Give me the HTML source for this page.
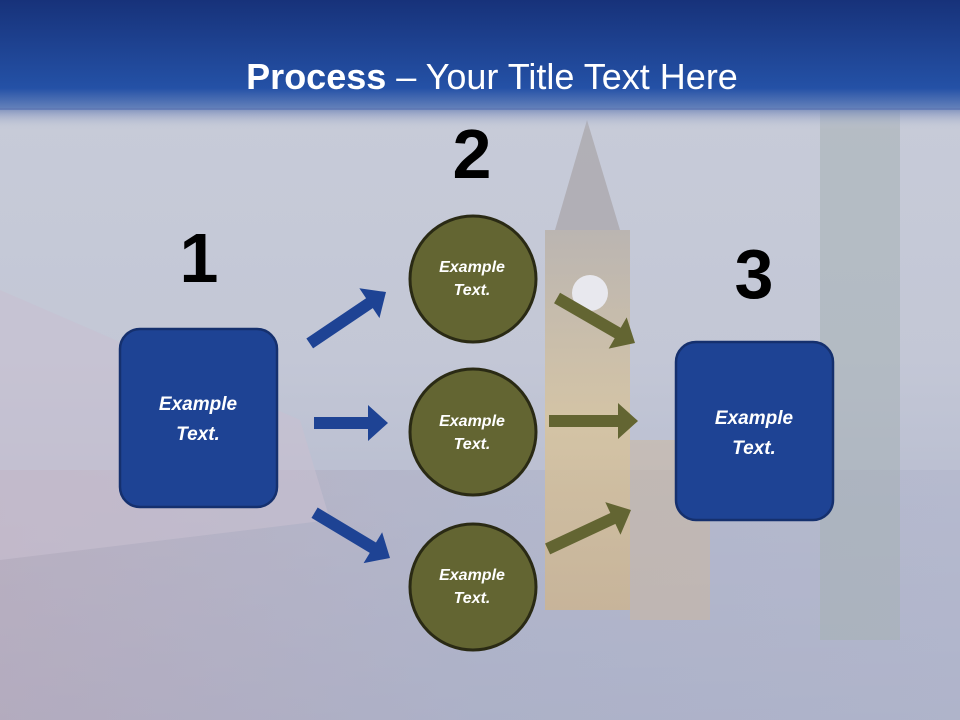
<!DOCTYPE html>
<html><head><meta charset="utf-8"><style>
html,body{margin:0;padding:0;width:960px;height:720px;overflow:hidden}
body{font-family:"Liberation Sans",sans-serif}
</style></head><body>
<svg width="960" height="720" viewBox="0 0 960 720" xmlns="http://www.w3.org/2000/svg">
<defs>
<linearGradient id="bg" x1="0" y1="0" x2="0" y2="1">
<stop offset="0" stop-color="#c9cdd9"/><stop offset="0.5" stop-color="#c3c7d6"/><stop offset="1" stop-color="#aab0c8"/>
</linearGradient>
<linearGradient id="hd" x1="0" y1="0" x2="0" y2="1">
<stop offset="0" stop-color="#17327a"/><stop offset="0.8" stop-color="#2451a6"/><stop offset="1" stop-color="#2a55a8" stop-opacity="0.6"/>
</linearGradient>
<linearGradient id="fade" x1="0" y1="0" x2="0" y2="1">
<stop offset="0" stop-color="#5a73b0" stop-opacity="0.7"/><stop offset="1" stop-color="#c9cdd9" stop-opacity="0"/>
</linearGradient>
<linearGradient id="tower" x1="0" y1="0" x2="0" y2="1">
<stop offset="0" stop-color="#b8b0a8"/><stop offset="0.5" stop-color="#d9c49a"/><stop offset="1" stop-color="#cdb48e"/>
</linearGradient>
<linearGradient id="street" x1="0" y1="0" x2="1" y2="0">
<stop offset="0" stop-color="#b9a8b8"/><stop offset="0.5" stop-color="#aeb2c8"/><stop offset="1" stop-color="#b2b6cc"/>
</linearGradient>
</defs>
<rect width="960" height="720" fill="url(#bg)"/>
<rect x="0" y="470" width="960" height="250" fill="url(#street)" opacity="0.6"/>
<polygon points="0,290 300,420 330,520 0,560" fill="#c8bfd0" opacity="0.6"/>
<rect x="545" y="230" width="85" height="380" fill="url(#tower)" opacity="0.8"/>
<polygon points="555,230 587,120 620,230" fill="#a8a4a8" opacity="0.7"/>
<rect x="630" y="440" width="80" height="180" fill="#cdb89c" opacity="0.5"/>
<rect x="820" y="110" width="80" height="530" fill="#a6b0b4" opacity="0.55"/>
<circle cx="590" cy="293" r="18" fill="#e8e8ee"/>
<rect x="0" y="0" width="960" height="110" fill="url(#hd)"/>
<rect x="0" y="108" width="960" height="22" fill="url(#fade)"/>
<text x="492" y="89" text-anchor="middle" font-family="Liberation Sans, sans-serif" font-size="36" fill="#fff"><tspan font-weight="bold">Process</tspan> – Your Title Text Here</text>
<g font-family="Liberation Sans, sans-serif" font-weight="bold" font-size="70" fill="#000" text-anchor="middle">
<text x="199" y="282">1</text><text x="472" y="178">2</text><text x="754" y="298">3</text>
</g>
<rect x="120" y="329" width="157" height="178" rx="20" fill="#1e4394" stroke="#15306e" stroke-width="2.5"/>
<rect x="676" y="342" width="157" height="178" rx="20" fill="#1e4394" stroke="#15306e" stroke-width="2.5"/>
<g fill="#636532" stroke="#2a2a14" stroke-width="3">
<circle cx="473" cy="279" r="63"/><circle cx="473" cy="432" r="63"/><circle cx="473" cy="587" r="63"/>
</g>
<g font-family="Liberation Sans, sans-serif" font-weight="bold" font-style="italic" fill="#fff" text-anchor="middle">
<text x="198" y="410" font-size="19">Example</text><text x="198" y="440" font-size="19">Text.</text>
<text x="754" y="424" font-size="19">Example</text><text x="754" y="454" font-size="19">Text.</text>
<text x="472" y="272" font-size="16">Example</text><text x="472" y="295" font-size="16">Text.</text>
<text x="472" y="426" font-size="16">Example</text><text x="472" y="449" font-size="16">Text.</text>
<text x="472" y="580" font-size="16">Example</text><text x="472" y="603" font-size="16">Text.</text>
</g>
<g fill="#1e4394">
<polygon transform="translate(386,292) rotate(-34)" points="0,0 -20,-18 -20,-6 -92,-6 -92,6 -20,6 -20,18"/>
<polygon transform="translate(388,423)" points="0,0 -20,-18 -20,-6 -74,-6 -74,6 -20,6 -20,18"/>
<polygon transform="translate(390,558) rotate(31)" points="0,0 -20,-18 -20,-6 -88,-6 -88,6 -20,6 -20,18"/>
</g>
<g fill="#636532">
<polygon transform="translate(635,343) rotate(30)" points="0,0 -20,-18 -20,-6 -90,-6 -90,6 -20,6 -20,18"/>
<polygon transform="translate(638,421)" points="0,0 -20,-18 -20,-6 -89,-6 -89,6 -20,6 -20,18"/>
<polygon transform="translate(631,510) rotate(-25)" points="0,0 -20,-18 -20,-6 -92,-6 -92,6 -20,6 -20,18"/>
</g>
</svg>
</body></html>
